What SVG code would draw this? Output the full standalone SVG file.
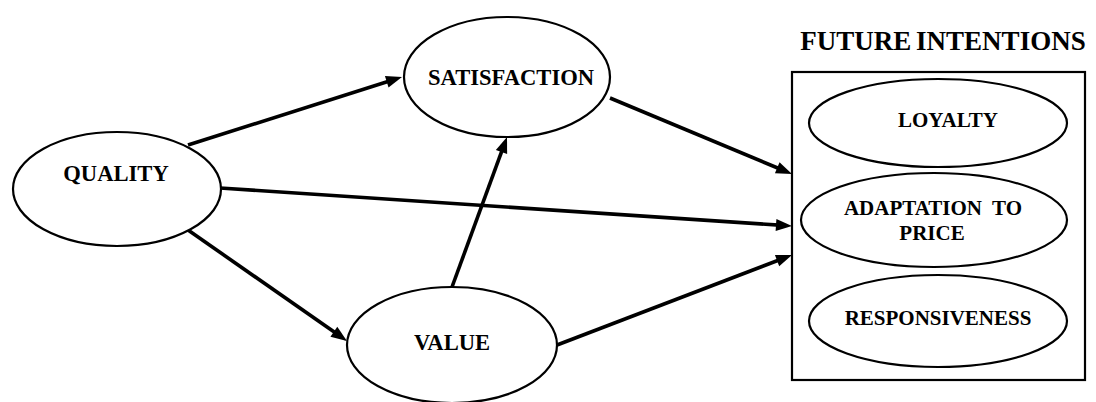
<svg xmlns="http://www.w3.org/2000/svg" width="1096" height="402" viewBox="0 0 1096 402">
<style>
.n{fill:#fff;stroke:#000;stroke-width:2.2}
.t{font-family:"Liberation Serif","Times New Roman",serif;font-weight:bold;fill:#000;text-anchor:middle}
.big{font-size:22.6px}
.in{font-size:21px}
.c{stroke:#000;stroke-width:3.6;fill:none;marker-end:url(#ah)}
</style>
<defs>
<marker id="ah" markerUnits="userSpaceOnUse" markerWidth="17" markerHeight="13" refX="7" refY="0" viewBox="0 -6.5 17 13" orient="auto" overflow="visible">
<path d="M0,-6 L16,0 L0,6 z" fill="#000"/>
</marker>
</defs>
<rect width="1096" height="402" fill="#fff"/>
<g id="connectors">
<line class="c" x1="188" y1="145" x2="393.4" y2="79.7"/>
<line class="c" x1="220" y1="188" x2="783" y2="225.4"/>
<line class="c" x1="188" y1="230" x2="339.6" y2="335.8"/>
<line class="c" x1="452" y1="287" x2="503.9" y2="145.4"/>
<line class="c" x1="610" y1="98" x2="783.7" y2="170.5"/>
<line class="c" x1="557" y1="345" x2="783.6" y2="258.2"/>
</g>
<g id="quality">
<ellipse class="n" cx="117" cy="189" rx="104" ry="57"/>
<text class="t big" x="116" y="181">QUALITY</text>
</g>
<g id="satisfaction">
<ellipse class="n" cx="507" cy="77" rx="103" ry="60"/>
<text class="t big" x="511" y="85">SATISFACTION</text>
</g>
<g id="value">
<ellipse class="n" cx="452" cy="345" rx="105" ry="58"/>
<text class="t big" x="452" y="350">VALUE</text>
</g>
<g id="future-intentions">
<text class="t" x="943" y="50" style="font-size:27px;word-spacing:-2px">FUTURE INTENTIONS</text>
<rect x="792" y="72" width="293" height="308" fill="none" stroke="#000" stroke-width="2.2"/>
</g>
<g id="loyalty">
<ellipse class="n" cx="938" cy="123" rx="129" ry="44"/>
<text class="t in" x="948" y="127">LOYALTY</text>
</g>
<g id="adaptation">
<ellipse class="n" cx="934" cy="220" rx="133" ry="47"/>
<text class="t in" x="933" y="215" xml:space="preserve">ADAPTATION  TO</text>
<text class="t in" x="932" y="240">PRICE</text>
</g>
<g id="responsiveness">
<ellipse class="n" cx="938" cy="321" rx="129" ry="46"/>
<text class="t in" x="938" y="325">RESPONSIVENESS</text>
</g>
</svg>
